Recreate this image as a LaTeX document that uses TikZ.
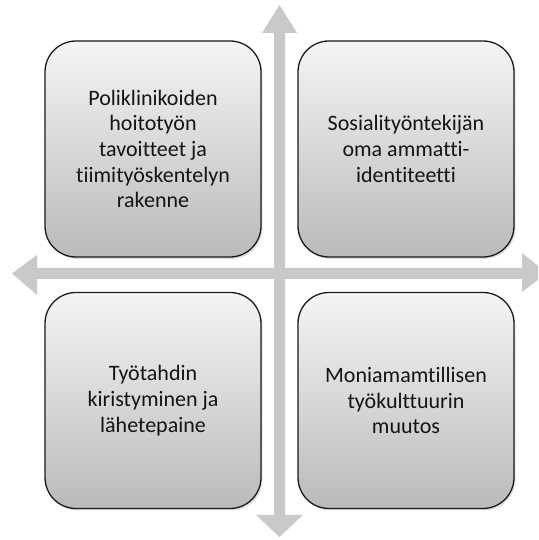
\documentclass[tikz,border=0pt]{standalone}
\usepackage{fontspec}
\setmainfont{Carlito}[Ligatures=CommonOff]
\usetikzlibrary{shadows}
\definecolor{arrowgray}{RGB}{201,201,201}
\definecolor{boxline}{RGB}{25,25,25}
\tikzset{
  quad/.style={draw=boxline, line width=1.3pt, rounded corners=31pt,
    top color=black!4, bottom color=black!27,
    drop shadow={shadow xshift=1.5pt, shadow yshift=-2pt, opacity=0.25},
    minimum width=216pt, minimum height=216pt, inner sep=0pt,
    align=center, font=\fontsize{22}{25.7}\selectfont, text=black!92},
  axisarrow/.style={fill=arrowgray, draw=none}
}
\begin{document}
\begin{tikzpicture}[x=1pt,y=1pt]
\useasboundingbox (0,0) rectangle (538,540);
\clip (0,0) rectangle (538,540);
% vertical double arrow
\coordinate (vtop) at (279.5,535);
\coordinate (vbot) at (279.5,3);
\fill[axisarrow] (vtop) -- (297,507) -- (285,507) -- (285,25) -- (303,25) -- (vbot) -- (256,25) -- (274,25) -- (274,507) -- (262,507) -- cycle;
% horizontal double arrow
\coordinate (hleft) at (12,266.5);
\coordinate (hright) at (547,267);
\fill[axisarrow] (hleft) -- (37,285) -- (37,272) -- (522,272) -- (522,287) -- (hright) -- (522,248) -- (522,261) -- (37,261) -- (37,245) -- cycle;
% boxes
\node[quad] (tl) at (153,391) {Poliklinikoiden\\hoitotyön\\tavoitteet ja\\tiimityöskentelyn\\rakenne};
\node[quad] (tr) at (406,391) {Sosialityöntekijän\\oma ammatti-\\identiteetti};
\node[quad] (bl) at (153,139.5) {Työtahdin\\kiristyminen ja\\lähetepaine};
\node[quad] (br) at (406,139.5) {Moniamamtillisen\\työkulttuurin\\muutos};
\end{tikzpicture}
\end{document}
